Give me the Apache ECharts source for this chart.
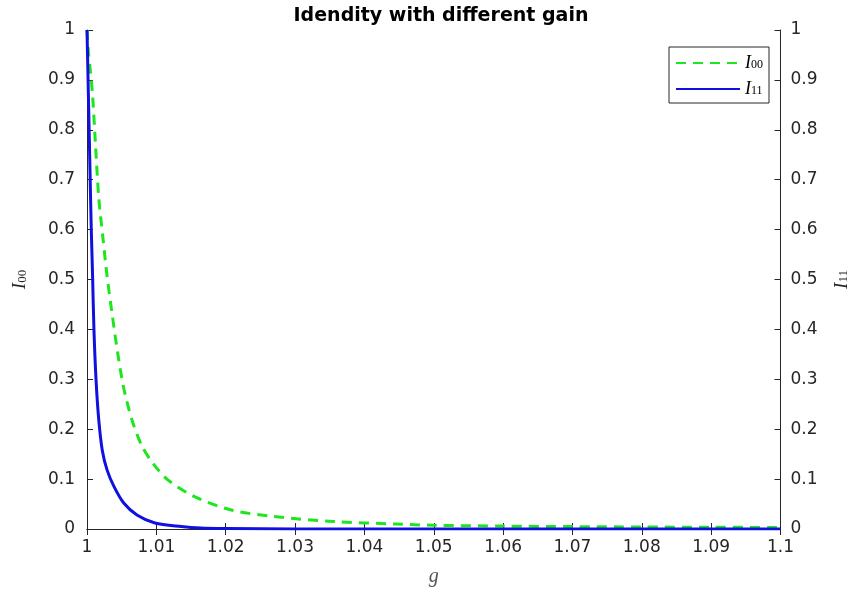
<!DOCTYPE html>
<html>
<head>
<meta charset="utf-8">
<script src="https://cdn.jsdelivr.net/npm/echarts@6/dist/echarts.min.js"></script>
<style>html,body{margin:0;padding:0;background:#fff}#c{width:859px;height:592px}</style>
</head>
<body>
<div id="c"></div>
<script>
var titleText = 'Idendity with different gain';
var xTicks = [1, 1.01, 1.02, 1.03, 1.04, 1.05, 1.06, 1.07, 1.08, 1.09, 1.1];
var yTicks = [0, 0.1, 0.2, 0.3, 0.4, 0.5, 0.6, 0.7, 0.8, 0.9, 1];

var g00 = [1.0000, 1.0002, 1.0005, 1.0008, 1.0012, 1.0017, 1.0023, 1.0029, 1.0036, 1.0044, 1.0053, 1.0065, 1.0079, 1.0096, 1.0117, 1.0155, 1.0208, 1.0269, 1.0355, 1.0445, 1.0500, 1.060, 1.070, 1.080, 1.090, 1.100];
var I00  = [1.0, 0.957, 0.915, 0.87, 0.776, 0.663, 0.583, 0.506, 0.433, 0.355, 0.282, 0.218, 0.167, 0.130, 0.098, 0.065, 0.038, 0.025, 0.015, 0.010, 0.0075, 0.0058, 0.0048, 0.0040, 0.0035, 0.0030];

var g11 = [1.0000, 1.0002, 1.0004, 1.0006, 1.0008, 1.0010, 1.0013, 1.0017, 1.0022, 1.0029, 1.0039, 1.0053, 1.0072, 1.0098, 1.0136, 1.0164, 1.020, 1.030, 1.050, 1.100];
var I11  = [1.0, 0.87, 0.74, 0.61, 0.51, 0.40, 0.30, 0.218, 0.158, 0.118, 0.085, 0.052, 0.028, 0.012, 0.005, 0.002, 0.001, 0.0002, 0.0, 0.0];

function pairs(xs, ys){ return xs.map(function(x,i){ return [x, ys[i]]; }); }

var axisColor = '#262626';
var sans = 'DejaVu Sans, Verdana, sans-serif';
var serif = 'Liberation Serif, Times New Roman, serif';
var labelFont = {color: axisColor, fontSize: 17, fontFamily: sans};
var nameRich = {
  i: {fontFamily: serif, fontStyle: 'italic', fontSize: 19, color: axisColor, lineHeight: 18},
  s: {fontFamily: serif, fontSize: 13, color: axisColor, verticalAlign: 'bottom', padding: [8,0,0,0], lineHeight: 18}
};
var legRich = {
  i: {fontFamily: serif, fontStyle: 'italic', fontSize: 18, color: '#000', lineHeight: 16},
  s: {fontFamily: serif, fontSize: 12, color: '#000', verticalAlign: 'bottom', padding: [7,0,0,0], lineHeight: 16}
};

var chart = echarts.init(document.getElementById('c'), null, {renderer: 'canvas'});
chart.setOption({
  animation: false,
  backgroundColor: '#fff',
  title: {
    text: titleText, left: 436, top: 2, textAlign: 'center',
    textStyle: {fontFamily: sans, fontWeight: 'bold', fontSize: 19, color: '#000'}
  },
  grid: {left: 84, right: 74, top: 30, bottom: 63, containLabel: false},
  legend: {
    right: 90, top: 47, orient: 'vertical', itemWidth: 64, itemHeight: 14, itemGap: 6,
    padding: [5, 6, 5, 6],
    borderColor: axisColor, borderWidth: 1, backgroundColor: '#fff',
    itemStyle: {opacity: 0},
    data: ['I00', 'I11'],
    formatter: function(n){ return n === 'I00' ? '{i|I}{s|00}' : '{i|I}{s|11}'; },
    textStyle: {rich: legRich}
  },
  xAxis: [{
    type: 'value', min: 1, max: 1.1, interval: 0.01, position: 'bottom',
    name: '{i|g}', nameLocation: 'middle', nameGap: 38,
    nameTextStyle: {rich: {i: {fontFamily: serif, fontStyle: 'italic', fontSize: 20, color: '#555'}}},
    axisLine: {show: true, lineStyle: {color: axisColor, width: 1}},
    axisTick: {show: true, inside: true, length: 6, lineStyle: {color: axisColor}},
    axisLabel: Object.assign({margin: 10, formatter: function(v){ return String(+v.toFixed(2)); }}, labelFont),
    splitLine: {show: false}
  }, {
    type: 'value', min: 1, max: 1.1, interval: 0.01, position: 'top',
    axisLine: {show: true, lineStyle: {color: axisColor, width: 1}},
    axisTick: {show: true, inside: true, length: 6, lineStyle: {color: axisColor}},
    axisLabel: {show: false}, splitLine: {show: false}
  }],
  yAxis: [{
    type: 'value', min: 0, max: 1, interval: 0.1, position: 'left',
    name: '{i|I}{s|00}', nameLocation: 'middle', nameGap: 58, nameRotate: 90,
    nameTextStyle: {rich: nameRich},
    axisLine: {show: true, lineStyle: {color: axisColor, width: 1}},
    axisTick: {show: true, inside: true, length: 6, lineStyle: {color: axisColor}},
    axisLabel: Object.assign({margin: 12, formatter: function(v){ return String(+v.toFixed(1)); }}, labelFont),
    splitLine: {show: false}
  }, {
    type: 'value', min: 0, max: 1, interval: 0.1, position: 'right',
    name: '{i|I}{s|11}', nameLocation: 'middle', nameGap: 52, nameRotate: 90,
    nameTextStyle: {rich: nameRich},
    axisLine: {show: true, lineStyle: {color: axisColor, width: 1}},
    axisTick: {show: true, inside: true, length: 6, lineStyle: {color: axisColor}},
    axisLabel: Object.assign({margin: 10, formatter: function(v){ return String(+v.toFixed(1)); }}, labelFont),
    splitLine: {show: false}
  }],
  series: [{
    name: 'I00', type: 'line', xAxisIndex: 0, yAxisIndex: 0, symbol: 'none', smooth: 0.3,
    data: pairs(g00, I00),
    lineStyle: {color: '#1ee61e', width: 3, type: [10, 7]},
    itemStyle: {color: '#1ee61e'}
  }, {
    name: 'I11', type: 'line', xAxisIndex: 0, yAxisIndex: 1, symbol: 'none', smooth: 0.3,
    data: pairs(g11, I11),
    lineStyle: {color: '#1010e0', width: 3},
    itemStyle: {color: '#1010e0'}
  }]
});
</script>
</body>
</html>
